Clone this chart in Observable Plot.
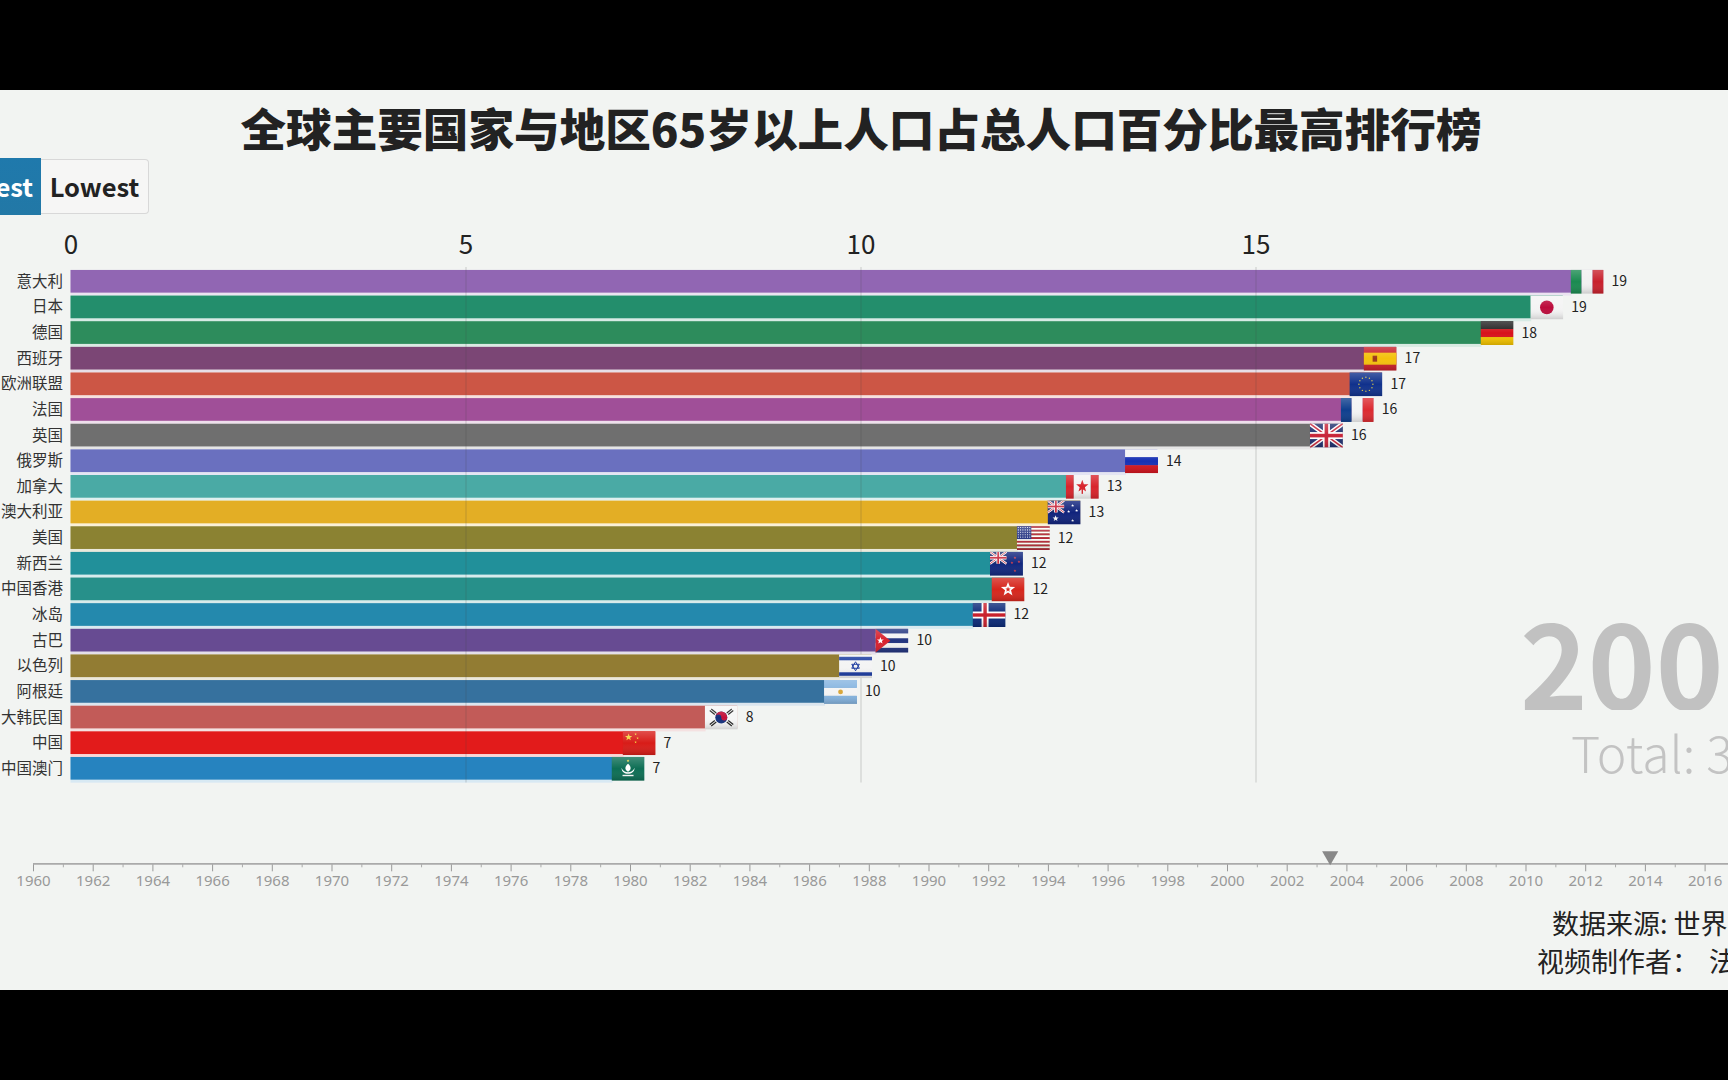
<!DOCTYPE html>
<html lang="zh">
<head>
<meta charset="utf-8">
<script src="https://cdn.jsdelivr.net/npm/d3@7"></script>
<script src="https://cdn.jsdelivr.net/npm/@observablehq/plot@0.6"></script>
<style>
html,body{margin:0;padding:0;background:#000;width:1728px;height:1080px;overflow:hidden}
#panel{position:absolute;left:0;top:90px;width:1728px;height:900px;background:#f2f4f2;overflow:hidden;font-family:"Noto Sans CJK SC","Noto Sans",sans-serif}
#panel>*{position:absolute}
#panel svg{background:transparent}
#chart{left:0;top:0}
#timeline{left:0;top:740px}
#title{left:0;width:1722px;top:6px;text-align:center;font-size:45.6px;line-height:62px;font-weight:900;color:#222;white-space:nowrap}
#btnHigh{left:-90px;top:68px;width:131px;height:57px;box-sizing:border-box;background:linear-gradient(#1f79ac,#2278a6);color:#fff;font-size:25.5px;font-weight:700;line-height:55px;text-align:right;padding-right:8px}
#btnLow{left:41px;top:69px;width:108px;height:55px;box-sizing:border-box;background:#f6f6f5;border:1.5px solid #d8d8d8;border-left:none;border-radius:0 4px 4px 0;color:#222;font-size:25.5px;font-weight:700;line-height:52px;text-align:center}
#year{left:1520px;top:520px;width:203px;overflow:hidden;font-size:115px;line-height:100px;font-weight:700;color:#c1c1c1;white-space:nowrap}
#total{left:1571px;top:635px;font-size:50px;line-height:52px;font-weight:300;color:#c3c3c3;white-space:nowrap}
.src{color:#222;font-size:27px;line-height:40px;white-space:pre}
#src1{left:1552px;top:813px}
#src2{left:1537px;top:851px;word-spacing:-1px}
</style>
</head>
<body>
<div id="panel">
  <div id="title">全球主要国家与地区65岁以上人口占总人口百分比最高排行榜</div>
  <div id="btnHigh">Highest</div>
  <div id="btnLow">Lowest</div>
  <div id="chart"></div>
  <div id="timeline"></div>
  <div id="year">2003</div>
  <div id="total">Total: 3</div>
  <div id="src1" class="src">数据来源: 世界银行</div>
  <div id="src2" class="src">视频制作者：  法</div>
</div>
<script>
const countries = ["意大利","日本","德国","西班牙","欧洲联盟","法国","英国","俄罗斯","加拿大","澳大利亚","美国","新西兰","中国香港","冰岛","古巴","以色列","阿根廷","大韩民国","中国","中国澳门"];
const values = [19.40,18.89,18.26,16.78,16.60,16.49,16.10,13.76,13.01,12.78,12.39,12.05,12.07,11.83,10.60,10.14,9.95,8.44,7.40,7.26];
const labels = ["19","19","18","17","17","16","16","14","13","13","12","12","12","12","10","10","10","8","7","7"];
const colors = ["#9166b3","#238e6c","#2d8c5c","#7b4675","#cc5645","#a04f98","#6f6f6f","#6a70bf","#4aaaa5","#e3ae25","#8b8232","#21909a","#27908a","#2489ad","#674b92","#927c33","#36719e","#c25b58","#e21b1b","#2683bf"];
const axisTicks = [0,5,10,15];
const currentTime = [2003.44];

// flag artwork
const star=(cx,cy,r,fill)=>{let p=[];for(let i=0;i<10;i++){const a=-Math.PI/2+i*Math.PI/5,q=i%2?r*.42:r;p.push((cx+q*Math.cos(a)).toFixed(2)+","+(cy+q*Math.sin(a)).toFixed(2));}return `<polygon points='${p.join(" ")}' fill='${fill}'/>`;};
const rect=(x,y,w,h,f)=>`<rect x='${x}' y='${y}' width='${w}' height='${h}' fill='${f}'/>`;
const vTri=(a,b,c)=>rect(0,0,11,24,a)+rect(11,0,11,24,b)+rect(22,0,11,24,c);
const hTri=(a,b,c)=>rect(0,0,33,8,a)+rect(0,8,33,8,b)+rect(0,16,33,8,c);
const union=rect(0,0,33,24,"#1f2f6e")+"<path d='M0 0L33 24M33 0L0 24' stroke='#fff' stroke-width='4.5'/><path d='M0 0L33 24M33 0L0 24' stroke='#c8263a' stroke-width='1.6'/>"+rect(13,0,7,24,"#fff")+rect(0,8.5,33,7,"#fff")+rect(14.7,0,3.6,24,"#c8263a")+rect(0,10.2,33,3.6,"#c8263a");
const canton=`<g transform='scale(.5)'>${union}</g>`;
const euStars=d3.range(12).map(i=>`<circle cx='${(16.5+7*Math.cos(i*Math.PI/6)).toFixed(2)}' cy='${(12+7*Math.sin(i*Math.PI/6)).toFixed(2)}' r='.7' fill='#d8c64a'/>`).join("");
const usStripes=d3.range(13).map(i=>rect(0,(i*24/13).toFixed(2),33,(24/13).toFixed(2),i%2?"#fff":"#b5283a")).join("");
const usDots=d3.range(5).flatMap(r=>d3.range(6).map(c=>`<circle cx='${1.5+c*2.3}' cy='${1.4+r*2.4}' r='.55' fill='#fff'/>`)).join("");
const flagArt = [
  vTri("#1a8a50","#f1f1f1","#c8202c"),
  rect(0,0,33,24,"#f4f4f4")+"<circle cx='16.5' cy='12' r='6.8' fill='#bc0c3c'/>",
  hTri("#222","#d8121c","#f5c400"),
  rect(0,0,33,24,"#c8202a")+rect(0,6,33,12,"#f4c20c")+rect(9,9,4.5,6,"#9c3a1a"),
  rect(0,0,33,24,"#10318c")+euStars,
  vTri("#0f3f8e","#f3f3f3","#dc2a30"),
  union,
  hTri("#f4f4f4","#1730b4","#d4141e"),
  rect(0,0,8,24,"#d8242c")+rect(8,0,17,24,"#f4f4f4")+rect(25,0,8,24,"#d8242c")+star(16.5,11.5,6.5,"#d8242c")+rect(15.8,14,1.4,5,"#d8242c"),
  rect(0,0,33,24,"#10237c")+canton+star(8,18,3.2,"#fff")+star(25,5,1.6,"#fff")+star(29,10,1.6,"#fff")+star(21,11,1.6,"#fff")+star(25,20,1.6,"#fff"),
  usStripes+rect(0,0,14.5,13,"#2b3a86")+usDots,
  rect(0,0,33,24,"#12277e")+canton+star(25,6,1.5,"#d8404a")+star(29,10,1.5,"#d8404a")+star(22,11,1.5,"#d8404a")+star(25,19,1.5,"#d8404a"),
  rect(0,0,33,24,"#d6261c")+star(16.5,12,7.5,"#fff")+star(16.5,12,2.8,"#d6261c"),
  rect(0,0,33,24,"#0c2a78")+rect(9,0,7,24,"#fff")+rect(0,8.5,33,7,"#fff")+rect(10.8,0,3.4,24,"#c8202c")+rect(0,10.3,33,3.4,"#c8202c"),
  rect(0,0,33,24,"#f4f4f4")+rect(0,0,33,4.8,"#22347f")+rect(0,9.6,33,4.8,"#22347f")+rect(0,19.2,33,4.8,"#22347f")+"<polygon points='0,0 15,12 0,24' fill='#d8202c'/>"+star(5,12,3.6,"#fff"),
  rect(0,0,33,24,"#f4f4f4")+rect(0,2.5,33,3.5,"#1a3aa0")+rect(0,18,33,3.5,"#1a3aa0")+"<path d='M16.5 7.5L20.3 14H12.7ZM16.5 16.5L20.3 10H12.7Z' fill='none' stroke='#1a3aa0' stroke-width='1'/>",
  hTri("#85b4e0","#f4f4f4","#85b4e0")+"<circle cx='16.5' cy='12' r='2.4' fill='#d8a63a'/>",
  rect(0,0,33,24,"#f6f6f6")+"<circle cx='16.5' cy='12' r='6' fill='#14307c'/><path d='M10.5 12A6 6 0 0 1 22.5 12A3 3 0 0 1 16.5 12A3 3 0 0 0 10.5 12Z' fill='#c4113a'/><path d='M5 5l5 4M6.5 3.5l5 4M22 7.5l5-4M23.5 9l5-4M5 19l5-4M6.5 20.5l5-4M22 16.5l5 4M23.5 15l5 4' stroke='#222' stroke-width='1.2'/>",
  rect(0,0,33,24,"#d81c18")+star(6,6,3.8,"#f4d23c")+star(13,3,1.3,"#f4d23c")+star(15,7,1.3,"#f4d23c")+star(13,11,1.3,"#f4d23c"),
  rect(0,0,33,24,"#0d6e54")+star(16.5,4,1.5,"#f4e04a")+"<path d='M16.5 7C13 10 13 13 16.5 15C20 13 20 10 16.5 7ZM10 11C10 15 13 17 16.5 17C20 17 23 15 23 11C22 14 19 15.5 16.5 15.5C14 15.5 11 14 10 11Z' fill='#fff'/>"+rect(11,18,11,1.4,"#fff")
];
const flagUris = flagArt.map(a=>"data:image/svg+xml,"+encodeURIComponent(
 `<svg xmlns='http://www.w3.org/2000/svg' viewBox='0 0 33 24' preserveAspectRatio='none'><defs><linearGradient id='g' x1='0' y1='0' x2='0' y2='1'><stop offset='0' stop-color='#fff' stop-opacity='.22'/><stop offset='.5' stop-color='#fff' stop-opacity='0'/><stop offset='1' stop-color='#000' stop-opacity='.16'/></linearGradient></defs>${a}<rect width='33' height='24' fill='url(#g)'/></svg>`));

const rows = countries.map((name,i)=>({name,value:values[i],label:labels[i],color:colors[i],halo:d3.interpolateRgb(colors[i],"#fff")(.82),flag:flagUris[i]}));

const chart = Plot.plot({
  width:1728, height:900,
  marginLeft:70.5, marginRight:0, marginTop:177, marginBottom:207.4,
  style:{background:"transparent",fontFamily:'"Noto Sans CJK SC","Noto Sans",sans-serif'},
  x:{domain:[0,(1728-70.5)/79]},
  y:{domain:countries,padding:.115,round:false},
  color:{type:"identity"},
  marks:[
    Plot.barX(rows,{x:d=>d.value-.4,y:"name",fill:"halo",insetBottom:-3}),
    Plot.barX(rows,{x:"value",y:"name",fill:"color"}),
    Plot.ruleX(axisTicks.slice(1),{stroke:"#444",strokeOpacity:.2,strokeWidth:1.2}),
    Plot.image(rows,{x:"value",y:"name",src:"flag",width:33,height:24,dx:-16.5,preserveAspectRatio:"none"}),
    Plot.text(rows,{x:"value",y:"name",text:"label",dx:8,textAnchor:"start",fontSize:14,fill:"#222"}),
    Plot.axisX({anchor:"top",ticks:axisTicks,tickSize:0,tickPadding:14,fontSize:26,label:null,fill:"#222",tickFormat:d=>d}),
    Plot.axisY({anchor:"left",tickSize:0,tickPadding:8,fontSize:15.5,label:null,fill:"#333"})
  ]
});
document.getElementById("chart").append(chart);

const timeline = Plot.plot({
  width:1728, height:70,
  marginLeft:33, marginRight:-6.45, marginTop:33.3, marginBottom:36.7,
  style:{background:"transparent",fontFamily:'"Noto Sans","Noto Sans CJK SC",sans-serif'},
  x:{domain:[1960,2017]},
  y:{domain:[0,1],axis:null},
  marks:[
    Plot.axisX({anchor:"bottom",ticks:d3.range(1961,2017,2),tickSize:4,tickFormat:()=>"",label:null,stroke:"#aaa"}),
    Plot.axisX({anchor:"bottom",ticks:d3.range(1960,2017,2),tickSize:8,tickPadding:4,fontSize:15,label:null,stroke:"#999",fill:"#999",tickFormat:d=>String(d)}),
    Plot.ruleY([0],{stroke:"#aaa",strokeWidth:1.8}),
    Plot.dot(currentTime,{x:d=>d,y:0,symbol:"triangle",r:6,rotate:180,fill:"#888",dy:-8})
  ]
});
document.getElementById("timeline").append(timeline);
</script>
</body>
</html>
